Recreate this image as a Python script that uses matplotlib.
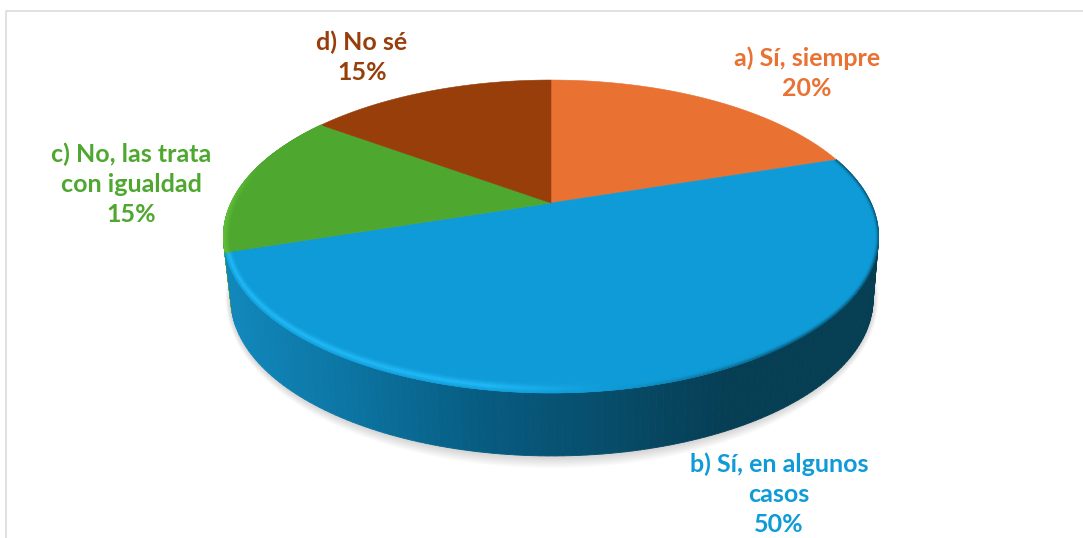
import numpy as np
import matplotlib
matplotlib.use("Agg")
import matplotlib.pyplot as plt
from matplotlib.collections import PolyCollection
from matplotlib.colors import to_rgb
from matplotlib.patches import Polygon

categorias = ["a) Sí, siempre", "b) Sí, en algunos\ncasos", "c) No, las trata\ncon igualdad", "d) No sé"]
valores = [20, 50, 15, 15]
colores = ["#E97132", "#0F9BD7", "#4EA72E", "#973E0B"]

# geometria del pastel en pixeles de la imagen
CX, CY, R, C, K = 551, 203, 320, 149.3, 0.214
DEPTH, SHRINK = 63, 0.98
label_pos = [(807, 73), (779, 494), (131, 184), (362, 57)]


def project(theta, r=1.0):
    u = r * np.sin(theta)
    v = r * np.cos(theta)
    d = 1 + K * v
    return CX + R * u / d, CY - C * v / d


def bottom(x, y):
    return CX + 1 + (x - CX) * SHRINK, y + DEPTH


# centro real de la elipse superior, para el bisel
EX, EY = CX, 236


def band(x, y, t, a=0.028, b=0.075):
    return EX + (x - EX) * (1 - a * t), EY + (y - EY) * (1 - b * t)


def lerp_color(xs, stops, cols):
    rgb = np.array([to_rgb(c) for c in cols])
    return np.column_stack([np.interp(xs, stops, rgb[:, i]) for i in range(3)])


fig = plt.figure(figsize=(10.83, 5.38), dpi=100)
ax = fig.add_axes([0, 0, 1, 1])
ax.set_xlim(0, 1083)
ax.set_ylim(538, 0)
ax.axis("off")

# marco del grafico
ax.plot([6, 6, 1083], [538, 11, 11], color="#D9D9D9", lw=1.1)

fracs = np.cumsum([0] + valores) / sum(valores) * 2 * np.pi
full = np.linspace(0, 2 * np.pi, 400)

# sombra
fx, fy = bottom(*project(full))
for i in range(16):
    s = 16 - i
    sx = EX + (fx - EX) * (1 + s * 0.0011)
    sy = 305 + (fy - 305) * (1 + s * 0.0055) - 1
    ax.add_patch(Polygon(np.column_stack([sx, sy]), closed=True, fc="black", ec="none", alpha=0.011))


# pared lateral
def draw_side(i, stops, cols):
    th = np.linspace(fracs[i], fracs[i + 1], 160)
    x, y = project(th)
    bx, by = bottom(x, y)
    quads = [[(x[j], y[j]), (x[j + 1], y[j + 1]), (bx[j + 1], by[j + 1]), (bx[j], by[j])] for j in range(len(th) - 1)]
    fc = lerp_color((x[:-1] + x[1:]) / 2, stops, cols)
    ax.add_collection(PolyCollection(quads, facecolors=fc, edgecolors=fc, linewidths=0.6))


draw_side(2, [220, 240], ["#4EA72E", "#4EA72E"])
draw_side(1, [230, 340, 480, 620, 730, 880], ["#1187BB", "#0C76A4", "#075C81", "#074B68", "#063E54", "#063E54"])

# cara superior
for i, col in enumerate(colores):
    th = np.linspace(fracs[i], fracs[i + 1], 120)
    x, y = project(th)
    pts = np.vstack([[CX, CY], np.column_stack([x, y])])
    ax.add_patch(Polygon(pts, closed=True, fc=col, ec=col, lw=0.4))


# bisel del borde
def draw_rim(i, weight_fn, color_fn, a=0.028, b=0.075):
    th = np.linspace(fracs[i], fracs[i + 1], 220)
    x, y = project(th)
    ts = np.linspace(0, 1, 13)
    base = np.array(to_rgb(colores[i]))
    quads, fc = [], []
    for k in range(len(ts) - 1):
        x0, y0 = band(x, y, ts[k], a, b)
        x1, y1 = band(x, y, ts[k + 1], a, b)
        tm = (ts[k] + ts[k + 1]) / 2
        for j in range(len(th) - 1):
            quads.append([(x0[j], y0[j]), (x0[j + 1], y0[j + 1]), (x1[j + 1], y1[j + 1]), (x1[j], y1[j])])
            xm = (x0[j] + x0[j + 1]) / 2
            w = weight_fn(xm, tm)
            fc.append(base * (1 - w) + color_fn(xm) * w)
    fc = np.array(fc)
    ax.add_collection(PolyCollection(quads, facecolors=fc, edgecolors=fc, linewidths=0.4))


def blue_rim_color(x):
    return np.array(to_rgb("#22BBF8")) if x < 610 else np.array(to_rgb("#063E54"))


def blue_rim_weight(x, t):
    if x < 610:
        # banda clara, se apaga hacia el centro
        fade = np.clip((610 - x) / 120, 0, 1)
        return fade * np.clip(1 - abs(t - 0.42) / 0.55, 0, 1) ** 1.3
    fade = np.clip((x - 610) / 170, 0, 1)
    return 0.8 * fade * np.clip(1 - t / 0.42, 0, 1) ** 1.5


def green_rim_weight(x, t):
    return np.clip((262 - x) / 32, 0, 1) * np.clip(1 - t, 0, 1)


draw_rim(1, blue_rim_weight, blue_rim_color)
draw_rim(2, green_rim_weight, lambda x: np.array(to_rgb("#62C23A")), a=0.022, b=0.03)

# etiquetas
for cat, val, col, (tx, ty) in zip(categorias, valores, colores, label_pos):
    ax.text(tx, ty, f"{cat}\n{val}%", color=col, family="Lato", fontweight="bold", fontsize=18,
            ha="center", va="center", linespacing=1.37)

fig.savefig("out.png", dpi=100)
